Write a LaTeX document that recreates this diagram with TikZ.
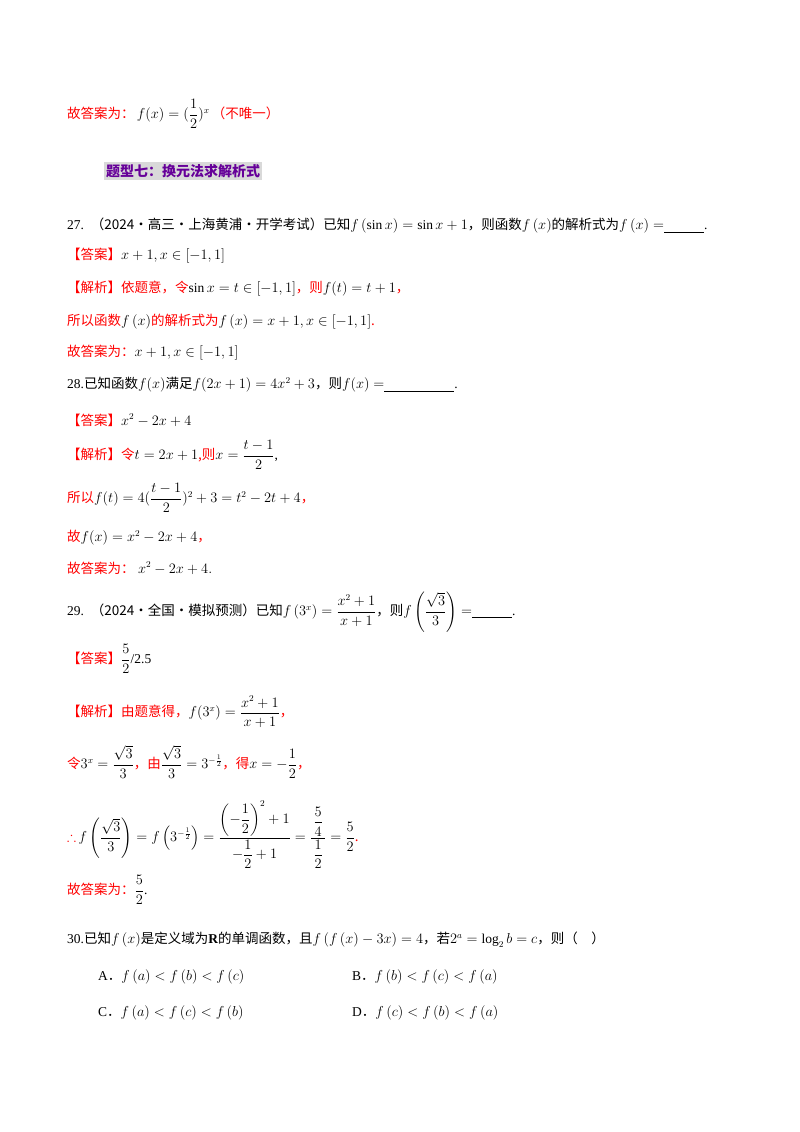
\documentclass[tikz,border=0pt]{standalone}
\usepackage{amsmath,amssymb}
\usepackage{fontspec}
\setmainfont{Liberation Serif}
\newfontfamily\cjk{Noto Sans CJK SC}
\newcommand{\RR}[1]{{\color{red}\cjk #1}}
\newcommand{\KK}[1]{{\cjk #1}}
\begin{document}
\begin{tikzpicture}[x=1pt,y=-1pt,
  ln/.style={anchor=west,inner sep=0pt,font=\fontsize{13.5}{16}\selectfont}]
\useasboundingbox[fill=white] (0,0) rectangle (800,1132);
\node[ln] (l1) at (67,114) {\RR{故答案为：}\,$f(x)=(\dfrac12)^x$\,\RR{（不唯一）}};
\node[anchor=west,fill=black!15,inner sep=2pt,font=\fontsize{14}{16}\selectfont\bfseries,text=violet!80!blue] (h) at (104,171) {\cjk 题型七：换元法求解析式};
\node[ln] (q27) at (67,226) {27.\ \ \KK{（2024·高三·上海黄浦·开学考试）已知}$f\left(\sin x\right)=\sin x+1$\KK{，则函数}$f\left(x\right)$\KK{的解析式为}$f\left(x\right)=$\underline{\hspace{40pt}}.};
\node[ln] (a27) at (67,256) {\RR{【答案】}$x+1,x\in[-1,1]$};
\node[ln] (j27) at (67,289) {\RR{【解析】依题意，令}$\sin x=t\in[-1,1]$\RR{，则}$f(t)=t+1$\RR{，}};
\node[ln] (j27b) at (67,322) {\RR{所以函数}$f\left(x\right)$\RR{的解析式为}$f\left(x\right)=x+1,x\in[-1,1]$\RR{.}};
\node[ln] (g27) at (67,353) {\RR{故答案为：}$x+1,x\in[-1,1]$};
\node[ln] (q28) at (67,385) {28.\KK{已知函数}$f(x)$\KK{满足}$f(2x+1)=4x^2+3$\KK{，则}$f(x)=$\underline{\hspace{70pt}}.};
\node[ln] (a28) at (67,420) {\RR{【答案】}$x^2-2x+4$};
\node[ln] (j28) at (67,455) {\RR{【解析】令}$t=2x+1$\RR{,则}$x=\dfrac{t-1}{2}$,};
\node[ln] (j28b) at (67,498) {\RR{所以}$f(t)=4(\dfrac{t-1}{2})^2+3=t^2-2t+4$\RR{，}};
\node[ln] (j28c) at (67,538) {\RR{故}$f(x)=x^2-2x+4$\RR{，}};
\node[ln] (g28) at (67,568) {\RR{故答案为：}\ $x^2-2x+4.$};
\node[ln] (q29) at (67,612) {29.\ \ \KK{（2024·全国·模拟预测）已知}$f\left(3^x\right)=\dfrac{x^2+1}{x+1}$\KK{，则}$f\left(\dfrac{\sqrt3}{3}\right)=$\underline{\hspace{40pt}}.};
\node[ln] (a29) at (67,659) {\RR{【答案】}$\dfrac52$/2.5};
\node[ln] (j29) at (67,712) {\RR{【解析】由题意得，}$f(3^x)=\dfrac{x^2+1}{x+1}$\RR{，}};
\node[ln] (j29b) at (67,762) {\RR{令}$3^x=\dfrac{\sqrt3}{3}$\RR{，由}$\dfrac{\sqrt3}{3}=3^{-\frac12}$\RR{，得}$x=-\dfrac12$\RR{，}};
\node[ln] (j29c) at (67,835) {\textcolor{red}{$\therefore$}$\,f\left(\dfrac{\sqrt3}{3}\right)=f\left(3^{-\frac12}\right)=\dfrac{\left(-\dfrac12\right)^2+1}{-\dfrac12+1}=\dfrac{\,\dfrac54\,}{\dfrac12}=\dfrac52$\RR{.}};
\node[ln] (g29) at (67,890) {\RR{故答案为：}$\dfrac52$.};
\node[ln] (q30) at (67,940) {30.\KK{已知}$f\left(x\right)$\KK{是定义域为}$\mathbf R$\KK{的单调函数，且}$f\left(f\left(x\right)-3x\right)=4$\KK{，若}$2^a=\log_2 b=c$\KK{，则（\quad）}};
\node[ln] (oA) at (98,977) {A\KK{．}$f\left(a\right)<f\left(b\right)<f\left(c\right)$};
\node[ln] (oB) at (352,977) {B\KK{．}$f\left(b\right)<f\left(c\right)<f\left(a\right)$};
\node[ln] (oC) at (98,1013) {C\KK{．}$f\left(a\right)<f\left(c\right)<f\left(b\right)$};
\node[ln] (oD) at (352,1013) {D\KK{．}$f\left(c\right)<f\left(b\right)<f\left(a\right)$};
\end{tikzpicture}
\end{document}
